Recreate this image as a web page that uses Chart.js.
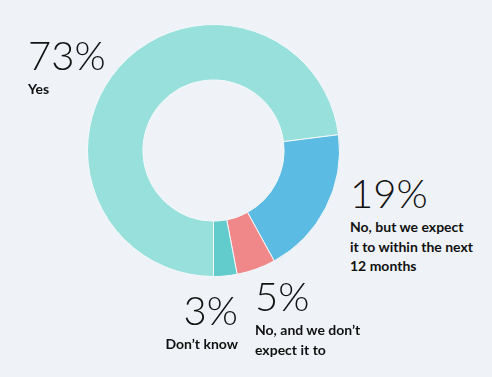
<!DOCTYPE html>
<html>
<head>
<meta charset="utf-8">
<script src="https://cdn.jsdelivr.net/npm/chart.js@4"></script>
<style>
  html, body { margin: 0; padding: 0; }
  body { width: 492px; height: 377px; background: #eff3f7; position: relative; overflow: hidden; font-family: "Lato", sans-serif; color: #111; }
  #wrap { position: absolute; left: 87px; top: 24px; width: 253px; height: 253px; }
  .lbl { position: absolute; }
  .pct { font-size: 40px; font-weight: 300; line-height: 40px; }
  .txt { font-size: 14px; font-weight: 700; line-height: 19.5px; margin-top: 4px; }
</style>
</head>
<body>
<div id="wrap"><canvas id="donut"></canvas></div>
<div id="labels"></div>
<script>
const categories = ["Yes", "No, but we expect it to within the next 12 months", "No, and we don\u2019t expect it to", "Don\u2019t know"];
const values = [73, 19, 5, 3];
const colours = ["#97e0dc", "#5bbbe3", "#f08788", "#62cbcb"];
const pctLabels = ["73%", "19%", "5%", "3%"];
const textLines = [
  ["Yes"],
  ["No, but we expect", "it to within the next", "12 months"],
  ["No, and we don\u2019t", "expect it to"],
  ["Don\u2019t know"]
];
// where each label block sits (left, top, align)
const labelPlaces = [
  { x: 28, y: 35, align: "left" },
  { x: 350, y: 173, align: "left" },
  { x: 255, y: 276, align: "left" },
  { x: 238, y: 290, align: "right" }
];

const holder = document.getElementById("labels");
labelPlaces.forEach((p, i) => {
  const d = document.createElement("div");
  d.className = "lbl";
  d.style.top = p.y + "px";
  d.style.textAlign = p.align;
  if (p.align === "right") {
    d.style.right = (492 - p.x) + "px";
  } else {
    d.style.left = p.x + "px";
  }
  d.innerHTML = '<div class="pct">' + pctLabels[i] + '</div><div class="txt">' + textLines[i].join("<br>") + "</div>";
  holder.appendChild(d);
});

new Chart(document.getElementById("donut").getContext("2d"), {
  type: "doughnut",
  data: {
    labels: categories,
    datasets: [
      {
        data: values,
        backgroundColor: colours,
        borderColor: "#f4f8fa",
        borderWidth: 1,
      },
    ],
  },
  options: {
    responsive: true,
    maintainAspectRatio: false,
    animation: false,
    rotation: 180,
    cutout: "56%",
    layout: { padding: 0 },
    plugins: {
      legend: { display: false },
      tooltip: { enabled: false },
    },
  },
});
</script>
</body>
</html>
